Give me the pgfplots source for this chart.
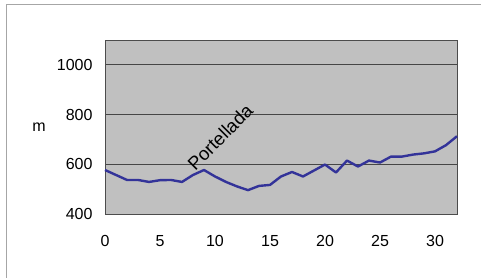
\documentclass[border=0pt]{standalone}
\usepackage{fontspec}
\setmainfont{Liberation Sans}
\usepackage{pgfplots}
\pgfplotsset{compat=1.18}
\definecolor{plotbg}{RGB}{192,192,192}
\definecolor{linec}{RGB}{51,51,153}
\definecolor{gridc}{RGB}{70,70,70}
\begin{document}
\begin{tikzpicture}[x=1pt,y=1pt]
\clip (0,0) rectangle (481,277);
\fill[white] (0,0) rectangle (481,277);
\draw[gray!70, line width=1pt] (6,-10) -- (6,273) -- (500,273);
\begin{axis}[
  at={(105pt,63pt)}, anchor=south west,
  scale only axis, width=352pt, height=174pt,
  xmin=0, xmax=32, ymin=400, ymax=1100,
  xtick={0,5,10,15,20,25,30},
  ytick={400,600,800,1000},
  major tick length=0pt,
  ymajorgrids, grid style={gridc, line width=0.9pt},
  axis background/.style={fill=plotbg},
  axis line style={gray!60!black, line width=0.9pt},
  /pgf/number format/assume math mode=true,
  /pgf/number format/set thousands separator={},
  ticklabel style={font=\fontsize{16}{18}\selectfont},
  yticklabel style={xshift=-9pt},
  xticklabel style={yshift=-18pt},
  clip=false,
]
\addplot[linec, line width=2.4pt, line join=round] coordinates {
(0,577) (1,557) (2,537) (3,537) (4,529) (5,536) (6,537) (7,529) (8,557)
(9,577) (10,551) (11,529) (12,511) (13,496) (14,513) (15,517) (16,551)
(17,569) (18,551) (19,575) (20,599) (21,567) (22,615) (23,591) (24,615)
(25,607) (26,631) (27,631) (28,639) (29,644) (30,652) (31,677) (32,713)
};
\node[rotate=45, anchor=base west, font=\fontsize{18.5}{20}\selectfont, inner sep=0pt] at (axis cs:8.2,572) {Portellada};
\end{axis}
\node[font=\fontsize{16}{18}\selectfont] at (39,150) {m};
\end{tikzpicture}
\end{document}
